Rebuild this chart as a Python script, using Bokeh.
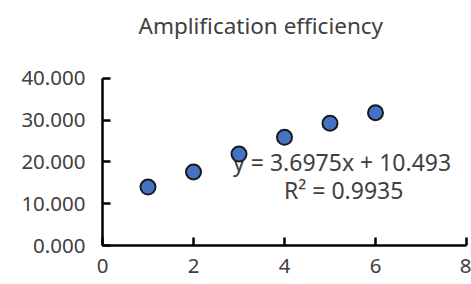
from bokeh.plotting import figure
from bokeh.models import Range1d, FixedTicker, PrintfTickFormatter, Label, Title
from bokeh.embed import file_html
from bokeh.resources import INLINE

# data
cycles_x = [1, 2, 3, 4, 5, 6]
ct_y = [14.0, 17.6, 21.9, 25.9, 29.3, 31.8]
x_ticks = [0, 2, 4, 6, 8]
y_ticks = [0, 10, 20, 30, 40]
slope = "3.6975"
intercept = "10.493"
r2 = "0.9935"
title_text = "Amplification efficiency"

FONT = "Noto Sans"
GRAY = "#404040"

p = figure(width=471, height=284, output_backend="svg", toolbar_location=None,
           x_range=Range1d(0, 8), y_range=Range1d(0, 47.9),
           min_border_left=102, min_border_right=5, min_border_top=45, min_border_bottom=39)
p.title = Title(text=title_text, align="left", offset=36, standoff=10,
                text_font=FONT, text_font_size="22.5px", text_font_style="normal",
                text_color=GRAY)

for ax in (p.xaxis[0], p.yaxis[0]):
    ax.axis_line_width = 2.5
    ax.axis_line_color = "black"
    ax.major_tick_line_width = 2.5
    ax.major_tick_line_color = "black"
    ax.major_tick_in = 8
    ax.major_tick_out = 0
    ax.minor_tick_line_color = None
    ax.major_label_text_font = FONT
    ax.major_label_text_font_size = "20.5px"
    ax.major_label_text_color = GRAY

p.xaxis.ticker = FixedTicker(ticks=x_ticks)
p.yaxis.ticker = FixedTicker(ticks=y_ticks)
p.yaxis.bounds = (0, 40)
p.yaxis.formatter = PrintfTickFormatter(format="%.3f")
p.yaxis.major_label_standoff = 17
p.xaxis.major_label_standoff = 13

p.xgrid.grid_line_color = None
p.ygrid.grid_line_color = None
p.outline_line_color = None

p.add_layout(Label(x=2.87, y=19.9, text=f"y = {slope}x + {intercept}", text_font=FONT,
                   text_font_size="23px", text_color=GRAY, text_baseline="middle",
                   level="underlay"))
p.add_layout(Label(x=5.30, y=13.4, text=f"R\u00b2 = {r2}", text_font=FONT,
                   text_font_size="23px", text_color=GRAY, text_baseline="middle",
                   text_align="center", level="underlay"))

p.scatter(cycles_x, ct_y, size=15, fill_color="#4472C4", line_color="#1a1a1a", line_width=2)

open("out.html", "w").write(file_html(p, INLINE))
